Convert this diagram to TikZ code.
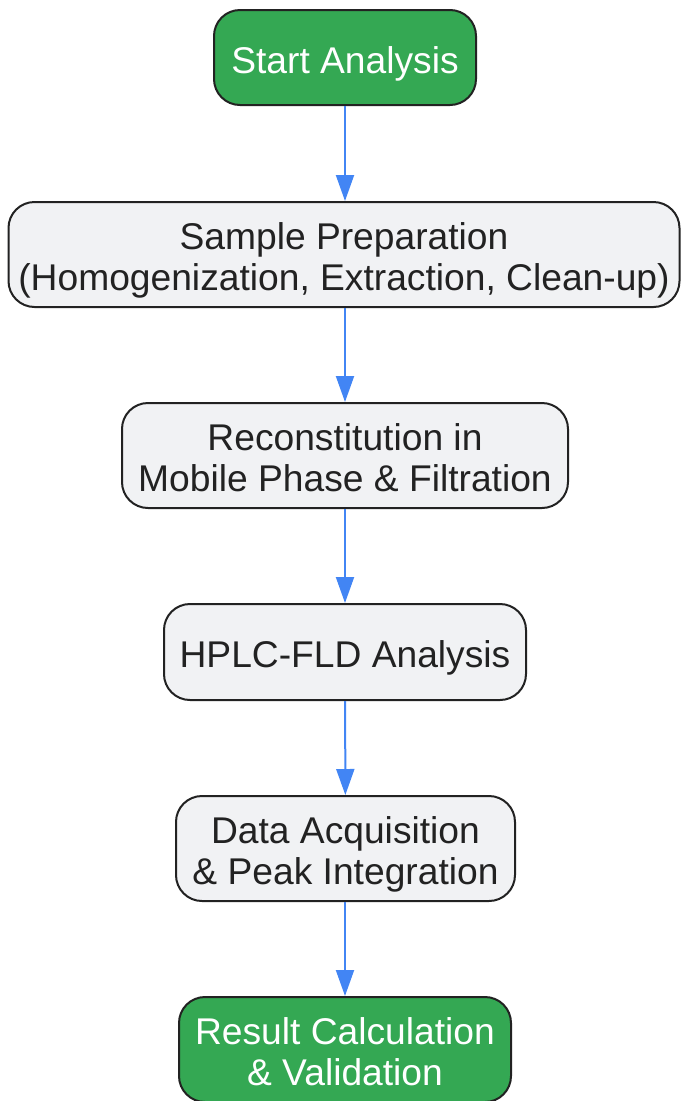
\documentclass[tikz,border=0pt]{standalone}
\usepackage{fontspec}
\setmainfont{Liberation Sans}
\usetikzlibrary{arrows.meta}
\definecolor{gfill}{HTML}{34A853}
\definecolor{pfill}{HTML}{F1F2F4}
\definecolor{bord}{HTML}{222222}
\definecolor{arr}{HTML}{4285F4}
\newcommand{\boxtext}[1]{\raisebox{0pt}[\dimexpr\height+15pt\relax][\depth]{\begin{tabular}{@{}c@{}}#1\end{tabular}}}
\tikzset{
  box/.style={draw=bord, line width=2pt, rounded corners=26pt, align=center, inner sep=0pt, font=\fontsize{37.2}{41}\selectfont, text=bord},
  procbox/.style={box, fill=pfill},
  termbox/.style={box, fill=gfill, text=white},
  flow/.style={draw=arr, line width=2pt, -{Triangle[length=26pt,width=18pt]}}
}
\begin{document}
\begin{tikzpicture}[x=1pt,y=-1pt]
\useasboundingbox (0,0) rectangle (681,1101);
\node[termbox, minimum width=262pt, minimum height=95pt] (start) at (345,57.5) {\boxtext{Start Analysis}};
\node[procbox, minimum width=671pt, minimum height=105pt] (prep) at (344,254.5) {\boxtext{Sample Preparation\\(Homogenization, Extraction, Clean-up)}};
\node[procbox, minimum width=446pt, minimum height=105pt] (recon) at (345,455.5) {\boxtext{Reconstitution in\\Mobile Phase \& Filtration}};
\node[procbox, minimum width=362pt, minimum height=96pt] (hplc) at (345,652) {\boxtext{HPLC-FLD Analysis}};
\node[procbox, minimum width=339pt, minimum height=105pt] (data) at (345.5,848.5) {\boxtext{Data Acquisition\\\& Peak Integration}};
\node[termbox, minimum width=332pt, minimum height=105pt] (res) at (345,1049.5) {\boxtext{Result Calculation\\\& Validation}};
\draw[flow] (start.south -| 345,0) -- (prep.north -| 345,0);
\draw[flow] (prep.south -| 345,0) -- (recon.north -| 345,0);
\draw[flow] (recon) -- (hplc);
\draw[flow] (hplc) -- (data);
\draw[flow] (data.south -| 345,0) -- (res.north -| 345,0);
\end{tikzpicture}
\end{document}
